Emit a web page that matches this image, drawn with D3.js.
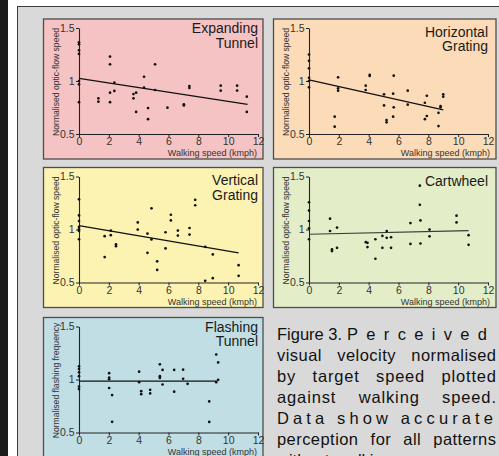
<!DOCTYPE html>
<html>
<head>
<meta charset="utf-8">
<script src="https://cdn.jsdelivr.net/npm/d3@7"></script>
<style>
  body { margin: 0; background: #fff; }
  svg { display: block; font-family: "Liberation Sans", Arial, sans-serif; }
</style>
</head>
<body>
<div id="grafico"></div>
<script>
// valores (velocidade em kmph, valor normalizado)
var titulos = [["Expanding", "Tunnel"], ["Horizontal", "Grating"], ["Vertical", "Grating"], ["Cartwheel"], ["Flashing", "Tunnel"]];
var rotulosY = ["Normalised optic-flow speed", "Normalised optic-flow speed", "Normalised optic-flow speed",
                "Normalised optic-flow speed", "Normalised flashing frequency"];
var rotuloX = "Walking speed (kmph)";
var ticksX = [0, 2, 4, 6, 8, 10, 12];
var ticksY = [0.5, 1, 1.5];

var expanding = [[0,1.365],[0,1.346],[0,1.29],[0,1.255],[0,1.0],[0,0.969],[0,0.80],
  [1.3,0.837],[1.3,0.805],[2.08,1.23],[2.08,1.157],[2.08,0.89],[2.08,0.80],[2.37,0.984],[2.37,0.906],
  [3.65,0.877],[3.65,0.837],[3.83,0.89],[3.83,0.708],[4.36,1.04],[4.36,0.937],[4.63,0.745],[4.63,0.64],
  [5.1,1.157],[5.1,0.915],[5.93,0.748],[7.03,0.78],[7.03,0.77],[7.4,0.953],[7.4,0.934],
  [9.5,0.956],[9.5,0.909],[10.6,0.956],[10.6,0.91],[11.25,0.852],[11.25,0.708]];
var horizontal = [[0,1.25],[0,1.19],[0,1.12],[0,1.03],[0,1.0],[0,0.94],
  [1.72,0.663],[1.72,0.569],[1.95,1.035],[1.95,0.931],[1.95,0.909],[3.8,0.956],[3.8,0.915],
  [4.07,1.057],[4.07,1.047],[5.03,0.874],[5.03,0.77],[5.2,0.632],[5.2,0.61],[5.64,0.88],[5.64,0.663],
  [5.68,1.05],[5.68,0.752],[6.62,0.909],[6.62,0.777],[7.77,0.795],[7.77,0.64],[7.9,0.861],[7.9,0.67],
  [8.68,0.70],[8.68,0.575],[8.82,0.764],[8.82,0.752],[9.0,0.874],[9.0,0.852]];
var vertical = [[0,1.285],[0,1.133],[0,1.08],[0,1.024],[0,1.002],[0,0.986],[0,0.908],
  [1.72,0.937],[1.72,0.74],[2.13,0.99],[2.13,0.946],[2.48,0.859],[2.48,0.843],[3.94,1.067],[3.94,0.999],
  [4.59,0.962],[4.59,0.78],[4.86,1.2],[4.86,0.906],[5.24,0.70],[5.24,0.619],[5.8,0.974],[5.8,0.821],
  [6.16,1.139],[6.16,1.086],[6.63,0.99],[6.63,0.943],[7.41,1.014],[7.41,0.952],[7.79,1.28],[7.79,1.229],
  [8.46,0.837],[8.46,0.516],[8.97,0.765],[8.97,0.541],[10.7,0.663],[10.7,0.563]];
var cartwheel = [[0,1.257],[0,1.179],[0,1.08],[0,1.011],[0,0.908],
  [1.41,1.102],[1.41,0.986],[1.54,0.812],[1.54,0.796],[1.88,1.018],[1.88,0.827],[3.81,0.88],
  [3.92,0.874],[3.92,0.834],[4.45,0.908],[4.45,0.724],[4.92,0.939],[4.92,0.827],[5.21,0.986],[5.21,0.921],
  [5.5,0.927],[5.5,0.827],[6.8,1.061],[6.8,0.864],[7.43,1.413],[7.43,1.233],[7.47,1.086],[7.47,0.868],
  [8.08,0.999],[8.08,0.936],[9.89,1.13],[9.89,1.067],[10.7,0.946],[10.7,0.855]];
var flashing = [[0,1.124],[0,1.099],[0,1.068],[0,1.031],[0,0.934],[0,0.91],
  [2.02,1.06],[2.02,1.019],[2.02,1.003],[2.02,0.92],[2.22,0.853],[2.22,0.601],[4.03,1.074],[4.03,0.975],
  [4.17,0.89],[4.17,0.862],[4.77,0.903],[4.77,0.869],[5.42,1.143],[5.42,1.031],[5.42,1.015],
  [5.6,1.09],[5.6,0.953],[6.38,1.09],[6.38,0.885],[6.98,1.093],[6.98,1.006],[7.28,0.959],
  [8.73,0.793],[8.73,0.60],[9.2,1.236],[9.2,0.975],[9.33,1.161],[9.33,0.997]];

// retas de regressão (inicio e fim)
var retas = [[[0,1.025],[11.3,0.78]], [[0,1.01],[9.0,0.727]], [[0,1.036],[10.7,0.78]],
             [[0,0.955],[10.7,0.99]], [[0,0.985],[9.25,0.985]]];

var legenda = ["Figure 3.", "Perceived", "visual velocity normalised", "by target speed plotted",
               "against walking speed.", "Data show accurate", "perception for all patterns", "without walking"];

var dados = [expanding, horizontal, vertical, cartwheel, flashing];

var width = 499, height = 456;

// caixas dos paineis
var paineis = [
  {x: 43.5, y: 19, w: 219.5, h: 140, cor: "#f5c3c3", dyTit: 14},
  {x: 273.5, y: 19, w: 222.5, h: 140, cor: "#fcdcb8", dyTit: 17.5},
  {x: 43.5, y: 167.5, w: 219.5, h: 140, cor: "#fcf3b3", dyTit: 17.5},
  {x: 273.5, y: 167.5, w: 222.5, h: 140, cor: "#e3eec9", dyTit: 18},
  {x: 43.5, y: 317.5, w: 219.5, h: 160, cor: "#c1dee5", dyTit: 14}
];

var svg = d3.select("#grafico").append("svg")
    .attr("width", width)
    .attr("height", height);

svg.append("rect").attr("x", 0).attr("y", 0).attr("width", 8).attr("height", height).attr("fill", "#1b1b1b");
svg.append("rect")
    .attr("x", 17.5).attr("y", 6.5).attr("width", 520).attr("height", 480)
    .attr("fill", "#d9d9d9").attr("stroke", "#3a3a3a").attr("stroke-width", 1);

paineis.forEach(function(p, i) {
  var g = svg.append("g");

  g.append("rect")
      .attr("x", p.x).attr("y", p.y).attr("width", p.w).attr("height", p.h)
      .attr("fill", p.cor).attr("stroke", "#4d4d4d").attr("stroke-width", 1.3);

  var esq = p.x + 35.5, dir = esq + 179;
  var x = d3.scaleLinear().domain([0, 12]).range([esq, dir]);
  var y = d3.scaleLinear().domain([0.5, 1.5]).range([p.y + 115, p.y + 9]);

  var eixoX = g.append("g")
      .attr("transform", "translate(0," + y(0.5) + ")")
      .call(d3.axisBottom(x).tickValues(ticksX).tickSize(3).tickSizeOuter(0).tickPadding(1).tickFormat(String));
  var eixoY = g.append("g")
      .attr("transform", "translate(" + x(0) + ",0)")
      .call(d3.axisLeft(y).tickValues(ticksY).tickSize(3).tickSizeOuter(0).tickPadding(1.5).tickFormat(String));

  [eixoX, eixoY].forEach(function(e) {
    e.select(".domain").attr("stroke", "#222").attr("stroke-width", 1.1);
    e.selectAll(".tick line").attr("stroke", "#222");
    e.selectAll(".tick text")
        .attr("fill", "#333")
        .style("font-family", "'Liberation Sans', Arial, sans-serif")
        .style("font-size", "10.5px");
  });

  g.append("text")
      .attr("x", p.x + p.w - 6).attr("y", p.y + 137)
      .attr("text-anchor", "end")
      .attr("font-size", "9px")
      .attr("fill", "#333")
      .text(rotuloX);

  g.append("text")
      .attr("transform", "translate(" + (p.x + 15) + "," + ((y(0.5) + y(1.5)) / 2 + 1) + ") rotate(-90)")
      .attr("text-anchor", "middle")
      .attr("font-size", "8.6px")
      .attr("fill", "#333")
      .text(rotulosY[i]);

  // reta de regressão
  g.append("path")
      .attr("d", d3.line().x(function(d) { return x(d[0]); }).y(function(d) { return y(d[1]); })(retas[i]))
      .attr("stroke", i == 3 ? "#3a3a3a" : "#111")
      .attr("stroke-width", 1.2)
      .attr("fill", "none");

  g.selectAll("circle")
      .data(dados[i])
      .enter().append("circle")
      .attr("cx", function(d) { return x(d[0]); })
      .attr("cy", function(d) { return y(d[1]); })
      .attr("r", 1.35)
      .attr("fill", "#111");

  var tit = g.append("text")
      .attr("text-anchor", "end")
      .attr("font-size", "14px")
      .attr("fill", "#1a1a1a");
  titulos[i].forEach(function(linha, j) {
    tit.append("tspan")
        .attr("x", dir)
        .attr("y", p.y + p.dyTit + j * 14.5)
        .text(linha);
  });
});

// legenda justificada
function justifica(t, alvo, fracLetra) {
  var txt = t.text(), w = t.node().getComputedTextLength();
  var extra = alvo - w;
  var nEsp = txt.split(" ").length - 1;
  if (!nEsp) fracLetra = 1;
  var ls = fracLetra * extra / (txt.length - 1);
  var ws = nEsp ? (1 - fracLetra) * extra / nEsp : 0;
  t.style("letter-spacing", ls + "px").style("word-spacing", ws + "px");
}

var capX = 277, capY = 339.5, capDy = 21;
var cap = svg.append("g").attr("font-size", "16.5px").attr("fill", "#111");

cap.append("text").attr("x", capX).attr("y", capY).text(legenda[0]);
justifica(cap.append("text").attr("x", 347).attr("y", capY).text(legenda[1]), 140, 1);

var alvos = [219, 219, 219, 216, 219];
var fracs = [0.35, 0.35, 0.35, 1, 0.35];
legenda.slice(2, 7).forEach(function(linha, k) {
  var t = cap.append("text").attr("x", capX).attr("y", capY + (k + 1) * capDy).text(linha);
  justifica(t, alvos[k], fracs[k]);
});
cap.append("text").attr("x", capX).attr("y", capY + 6 * capDy).style("word-spacing", "3px").text(legenda[7]);
</script>
</body>
</html>
